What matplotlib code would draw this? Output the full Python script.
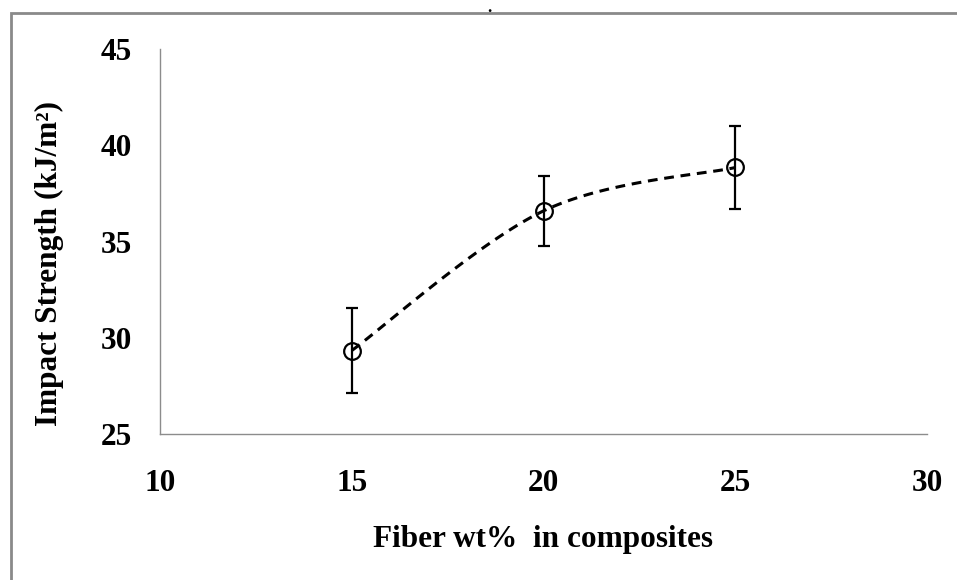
import numpy as np
import matplotlib
matplotlib.use("Agg")
import matplotlib.pyplot as plt
from matplotlib.patches import Rectangle

fiber_wt = [15, 20, 25]
impact = [29.35, 36.6, 38.85]
impact_err = [2.2, 1.8, 2.15]
x_ticks = [10, 15, 20, 25, 30]
y_ticks = [25, 30, 35, 40, 45]

plt.rcParams['font.family'] = ['Liberation Serif', 'DejaVu Serif']
plt.rcParams['font.weight'] = 'bold'

fig = plt.figure(figsize=(9.57, 5.8), dpi=100)
ax = fig.add_axes([0.1672, 0.2512, 0.8017, 0.6643])

# Smoothed line (Excel-style Bezier smoothing through the data points)
def smooth(xs, ys, n=60):
    xs = np.asarray(xs, float); ys = np.asarray(ys, float)
    px, py = [], []
    m = len(xs)
    for i in range(m - 1):
        p0 = np.array([xs[max(i - 1, 0)], ys[max(i - 1, 0)]])
        p1 = np.array([xs[i], ys[i]])
        p2 = np.array([xs[i + 1], ys[i + 1]])
        p3 = np.array([xs[min(i + 2, m - 1)], ys[min(i + 2, m - 1)]])
        c1 = p1 + (p2 - p0) / 6.0
        c2 = p2 - (p3 - p1) / 6.0
        t = np.linspace(0, 1, n)[:, None]
        b = (1 - t) ** 3 * p1 + 3 * (1 - t) ** 2 * t * c1 + 3 * (1 - t) * t ** 2 * c2 + t ** 3 * p2
        px.extend(b[:, 0]); py.extend(b[:, 1])
    return px, py

sx, sy = smooth(fiber_wt, impact)
ax.plot(sx, sy, color='black', linewidth=2.2, linestyle=(0, (3.2, 2.2)), zorder=2)
ax.errorbar(fiber_wt, impact, yerr=impact_err, fmt='o', markersize=12,
            markerfacecolor='none', markeredgecolor='black', markeredgewidth=1.6,
            ecolor='black', elinewidth=1.6, capsize=4.5, capthick=1.6, zorder=3)

ax.set_xlim(10, 30)
ax.set_ylim(25, 45)
ax.set_xticks(x_ticks)
ax.set_yticks(y_ticks)
ax.tick_params(length=0, labelsize=22.5)
ax.tick_params(axis='y', pad=20)
ax.tick_params(axis='x', pad=25)
for lab in ax.get_xticklabels() + ax.get_yticklabels():
    lab.set_fontweight('bold')
for s in ['top', 'right']:
    ax.spines[s].set_visible(False)
for s in ['left', 'bottom']:
    ax.spines[s].set_color('#8c8c8c')
    ax.spines[s].set_linewidth(1.0)

fig.text(0.567, 0.069, 'Fiber wt%  in composites', ha='center', va='center',
         fontsize=22.5, fontweight='bold')
fig.text(0.0517, 0.546, 'Impact Strength (kJ/m²)', ha='center', va='center',
         rotation=90, fontsize=22.5, fontweight='bold')
fig.text(0.511, 1.0, '.', ha='center', va='top', fontsize=12)

fig.patches.append(Rectangle((11 / 957, -0.05), 1.1, 1.05 - 13 / 580,
                             transform=fig.transFigure, fill=False,
                             edgecolor='#8a8a8a', linewidth=2.0))

fig.savefig('out.png', dpi=100)
